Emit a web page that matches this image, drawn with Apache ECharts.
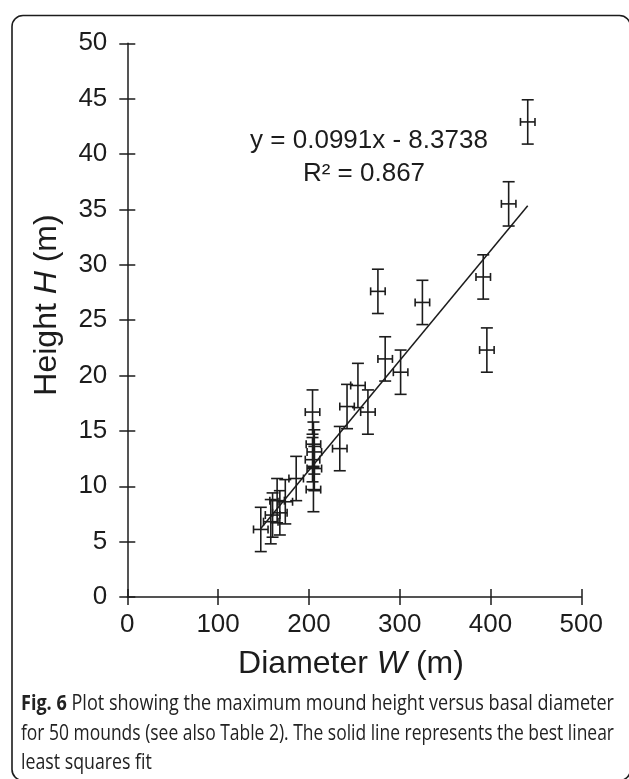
<!DOCTYPE html>
<html>
<head>
<meta charset="utf-8">
<script src="https://cdn.jsdelivr.net/npm/echarts@6/dist/echarts.min.js"></script>
<style>
  html, body { margin: 0; padding: 0; background: #fff; }
  #chart { width: 629px; height: 779px; }
</style>
</head>
<body>
<div id="chart"></div>
<script>
// ---- data ----
const diameterW = [147, 158, 160, 165, 168, 174, 186, 204, 205, 206, 204, 206, 205, 234, 242, 254, 265, 276, 284, 301, 325, 392, 396, 420, 441];
const heightH   = [6.1, 6.8, 7.4, 8.7, 7.6, 8.6, 10.7, 16.7, 13.8, 13.1, 12.4, 11.6, 9.7, 13.4, 17.2, 19.1, 16.7, 27.6, 21.5, 20.3, 26.6, 28.9, 22.3, 35.5, 42.9];
const errW = 8;    // horizontal error (m)
const errH = 2;    // vertical error (m)
const fitSlope = 0.0991;
const fitIntercept = -8.3738;
const xTicks = [0, 100, 200, 300, 400, 500];
const yTicks = [0, 5, 10, 15, 20, 25, 30, 35, 40, 45, 50];
const equationText = 'y = 0.0991x - 8.3738';
const r2Text = 'R\u00b2 = 0.867';
const xTitle = ['Diameter ', 'W', ' (m)'];
const yTitle = ['Height ', 'H', ' (m)'];
const captionLines = [
  ['Fig. 6', ' Plot showing the maximum mound height versus basal diameter'],
  ['', 'for 50 mounds (see also Table 2). The solid line represents the best linear'],
  ['', 'least squares fit']
];

// ---- layout ----
const INK = '#1c1c1c';
const FONT = '"Liberation Sans", Arial, Helvetica, sans-serif';
const CAP_FONT = '"Open Sans", sans-serif';
const CAP_SIZE = 21;

const chart = echarts.init(document.getElementById('chart'));

const points = diameterW.map((w, i) => [w, heightH[i], errW, errH]);
const fitX0 = Math.min(...diameterW), fitX1 = Math.max(...diameterW);
const fitLine = [[fitX0, fitSlope * fitX0 + fitIntercept], [fitX1, fitSlope * fitX1 + fitIntercept]];

// measure caption lines to emulate the justified narrow caption font
const cv = document.createElement('canvas').getContext('2d');
function mw(t, bold) { cv.font = (bold ? 'bold ' : '') + CAP_SIZE + 'px ' + CAP_FONT; return cv.measureText(t).width; }
const capTarget = 593;
const capScales = captionLines.map(l => capTarget / (mw(l[0], true) + mw(l[1], false)));
const capScale3 = (capScales[0] + capScales[1]) / 2;
const capY = [704, 734, 763];

const axisCommon = {
  min: 0,
  splitLine: { show: false },
  axisLine: { show: true, onZero: false, lineStyle: { color: INK, width: 1.5 } },
  axisTick: { show: true, length: 8, lineStyle: { color: INK, width: 1.5 } },
  axisLabel: { color: INK, fontSize: 26, fontFamily: FONT }
};

const graphics = [
  { type: 'rect', left: 9.5, top: 13, shape: { x: 0, y: 0, width: 618.5, height: 765, r: 11 },
    style: { fill: 'none', stroke: INK, lineWidth: 1.6 }, silent: true, z: 0 },
  { type: 'text', x: 369, y: 141, style: { text: equationText, font: '26px ' + FONT, fill: INK, textAlign: 'center', textVerticalAlign: 'middle' } },
  { type: 'text', x: 364, y: 174, style: { text: r2Text, font: '26px ' + FONT, fill: INK, textAlign: 'center', textVerticalAlign: 'middle' } },
  { type: 'text', x: 351, y: 664, style: {
      text: xTitle[0] + '{i|' + xTitle[1] + '}' + xTitle[2],
      fontFamily: FONT, fontSize: 32, fill: INK, textAlign: 'center', textVerticalAlign: 'middle',
      rich: { i: { fontStyle: 'italic', fontFamily: FONT, fontSize: 32, fill: INK } } } },
  { type: 'text', x: 47, y: 305, rotation: Math.PI / 2, style: {
      text: yTitle[0] + '{i|' + yTitle[1] + '}' + yTitle[2],
      fontFamily: FONT, fontSize: 32, fill: INK, textAlign: 'center', textVerticalAlign: 'middle',
      rich: { i: { fontStyle: 'italic', fontFamily: FONT, fontSize: 32, fill: INK } } } }
];
captionLines.forEach((l, i) => {
  graphics.push({
    type: 'text', x: 21, y: capY[i], scaleX: i < 2 ? capScales[i] : capScale3, originX: 0, originY: 0,
    style: {
      text: (l[0] ? '{b|' + l[0] + '}' : '') + l[1],
      fontFamily: CAP_FONT, fontSize: CAP_SIZE, fill: '#222', textAlign: 'left', textVerticalAlign: 'middle',
      rich: { b: { fontWeight: 'bold', fontFamily: CAP_FONT, fontSize: CAP_SIZE, fill: '#222' } }
    }
  });
});

const option = {
  animation: false,
  backgroundColor: '#fff',
  grid: { left: 127.3, top: 43.3, width: 454, height: 553.7, containLabel: false, outerBoundsMode: 'none' },
  xAxis: [
    Object.assign({}, axisCommon, { type: 'value', position: 'bottom', max: xTicks[xTicks.length - 1], interval: xTicks[1] - xTicks[0],
      axisTick: Object.assign({}, axisCommon.axisTick, { inside: false }),
      axisLabel: Object.assign({}, axisCommon.axisLabel, { margin: 15 }) }),
    Object.assign({}, axisCommon, { type: 'value', position: 'bottom', max: xTicks[xTicks.length - 1], interval: xTicks[1] - xTicks[0],
      axisLine: { show: false }, axisLabel: { show: false },
      axisTick: Object.assign({}, axisCommon.axisTick, { inside: true }) })
  ],
  yAxis: [
    Object.assign({}, axisCommon, { type: 'value', position: 'left', max: yTicks[yTicks.length - 1], interval: yTicks[1] - yTicks[0],
      axisTick: Object.assign({}, axisCommon.axisTick, { inside: false }),
      axisLabel: Object.assign({}, axisCommon.axisLabel, { margin: 20 }) }),
    Object.assign({}, axisCommon, { type: 'value', position: 'left', max: yTicks[yTicks.length - 1], interval: yTicks[1] - yTicks[0],
      axisLine: { show: false }, axisLabel: { show: false },
      axisTick: Object.assign({}, axisCommon.axisTick, { inside: true }) })
  ],
  series: [
    {
      type: 'line', xAxisIndex: 0, yAxisIndex: 0, data: fitLine, symbol: 'none',
      lineStyle: { color: INK, width: 1.5 }, z: 2
    },
    {
      type: 'custom', xAxisIndex: 0, yAxisIndex: 0, data: points, z: 3,
      renderItem: function (params, api) {
        const x = api.value(0), y = api.value(1), ex = api.value(2), ey = api.value(3);
        const top = api.coord([x, y + ey]), bot = api.coord([x, y - ey]);
        const lft = api.coord([x - ex, y]), rgt = api.coord([x + ex, y]);
        const cw = 6, ch = 4;
        const st = { stroke: INK, lineWidth: 1.6, fill: 'none' };
        const seg = (x1, y1, x2, y2) => ({ type: 'line', shape: { x1, y1, x2, y2 }, style: st });
        return { type: 'group', children: [
          seg(top[0], top[1], bot[0], bot[1]),
          seg(top[0] - cw, top[1], top[0] + cw, top[1]),
          seg(bot[0] - cw, bot[1], bot[0] + cw, bot[1]),
          seg(lft[0], lft[1], rgt[0], rgt[1]),
          seg(lft[0], lft[1] - ch, lft[0], lft[1] + ch),
          seg(rgt[0], rgt[1] - ch, rgt[0], rgt[1] + ch)
        ] };
      }
    }
  ],
  graphic: graphics
};
chart.setOption(option);
</script>
</body>
</html>
